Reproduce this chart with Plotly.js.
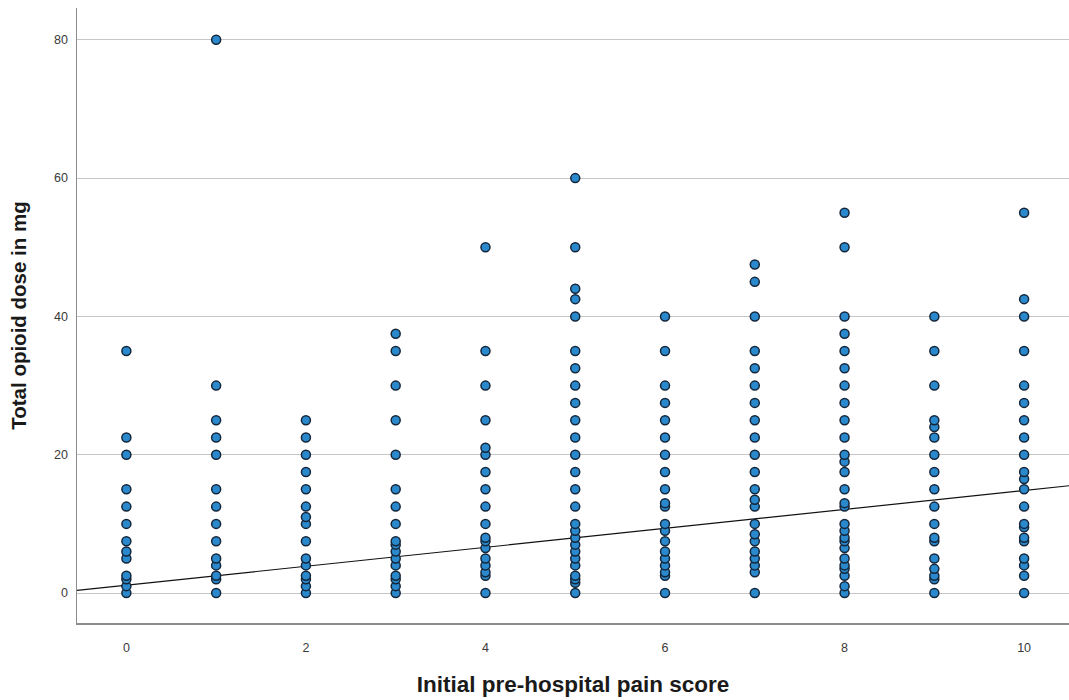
<!DOCTYPE html>
<html>
<head>
<meta charset="utf-8">
<script src="https://cdn.plot.ly/plotly-3.0.1.min.js"></script>
<style>
html,body{margin:0;padding:0;background:#fff;}
#chart{width:1069px;height:700px;}
</style>
</head>
<body>
<div id="chart"></div>
<script>
// Total opioid dose (mg) observed at each initial pain score
const painScores = [0,1,2,3,4,5,6,7,8,9,10];
const dose0  = [0,1,2,2.5,5,6,7.5,10,12.5,15,20,22.5,35];
const dose1  = [0,2,2.5,4,5,7.5,10,12.5,15,20,22.5,25,30,80];
const dose2  = [0,1,2,2.5,4,5,7.5,10,11,12.5,15,17.5,20,22.5,25];
const dose3  = [0,1,2,2.5,4,5,6,7,7.5,10,12.5,15,20,25,30,35,37.5];
const dose4  = [0,2.5,3,4,5,6.5,7.5,8,10,12.5,15,17.5,20,21,25,30,35,50];
const dose5  = [0,1.5,2,2.5,4,5,6,7,8,9,10,12.5,15,17.5,20,22.5,25,27.5,30,32.5,35,40,42.5,44,50,60];
const dose6  = [0,2.5,3,4,5,6,7.5,9,10,12.5,13,15,17.5,20,22.5,25,27.5,30,35,40];
const dose7  = [0,3,4,5,6,7.5,8.5,10,12.5,13.5,15,17.5,20,22.5,25,27.5,30,32.5,35,40,45,47.5];
const dose8  = [0,1,2.5,3.5,4,5,6.5,7.5,8,9,10,12.5,13,15,17.5,19,20,22.5,25,27.5,30,32.5,35,37.5,40,50,55];
const dose9  = [0,2,2.5,3.5,5,7.5,8,10,12.5,15,17.5,20,22.5,24,25,30,35,40];
const dose10 = [0,2.5,4,5,7.5,8,9.5,10,12.5,15,16.5,17.5,20,22.5,25,27.5,30,35,40,42.5,55];
const dosesByScore = [dose0,dose1,dose2,dose3,dose4,dose5,dose6,dose7,dose8,dose9,dose10];

// Linear fit line
const fitIntercept = 1.13;
const fitSlope = 1.37;

const xTickVals = [0,2,4,6,8,10];
const yTickVals = [0,20,40,60,80];

const xs = [], ys = [];
dosesByScore.forEach((arr, i) => {
  arr.forEach(v => { xs.push(painScores[i]); ys.push(v); });
});

const xRange = [-0.55, 10.5];
const yRange = [-4.33, 84.6];

const fitX = [xRange[0], xRange[1]];
const fitY = fitX.map(x => fitIntercept + fitSlope * x);

const traces = [
  {
    type: 'scatter', mode: 'lines', x: fitX, y: fitY,
    line: {color: '#111', width: 1.2}, hoverinfo: 'skip', showlegend: false
  },
  {
    type: 'scatter', mode: 'markers', x: xs, y: ys,
    marker: {size: 9, color: '#2a89cc', line: {color: '#15263a', width: 1.5}},
    showlegend: false
  }
];

const layout = {
  width: 1069, height: 700,
  margin: {l: 77, r: 0, t: 8, b: 77},
  paper_bgcolor: '#ffffff', plot_bgcolor: '#ffffff',
  font: {family: 'Liberation Sans, Arial, sans-serif', color: '#444'},
  xaxis: {
    range: xRange, tickvals: xTickVals, ticktext: xTickVals.map(String),
    showgrid: false, zeroline: false,
    showline: true, linecolor: '#8c8c8c', linewidth: 1.5,
    ticks: '', ticklabelstandoff: 12,
    tickfont: {size: 12.5, color: '#3a3a3a'},
    title: {text: '<b>Initial pre-hospital pain score</b>', font: {size: 22.5, color: '#1a1a1a'}, standoff: 22}
  },
  yaxis: {
    range: yRange, tickvals: yTickVals, ticktext: yTickVals.map(String),
    showgrid: true, gridcolor: '#c6c6c6', gridwidth: 1, zeroline: false,
    showline: true, linecolor: '#8c8c8c', linewidth: 1.5,
    ticks: '', ticklabelstandoff: 5,
    tickfont: {size: 12.5, color: '#3a3a3a'},
    title: {text: '<b>Total opioid dose in mg</b>', font: {size: 20.5, color: '#1a1a1a'}, standoff: 22}
  }
};

Plotly.newPlot('chart', traces, layout, {displayModeBar: false, staticPlot: true});
</script>
</body>
</html>
